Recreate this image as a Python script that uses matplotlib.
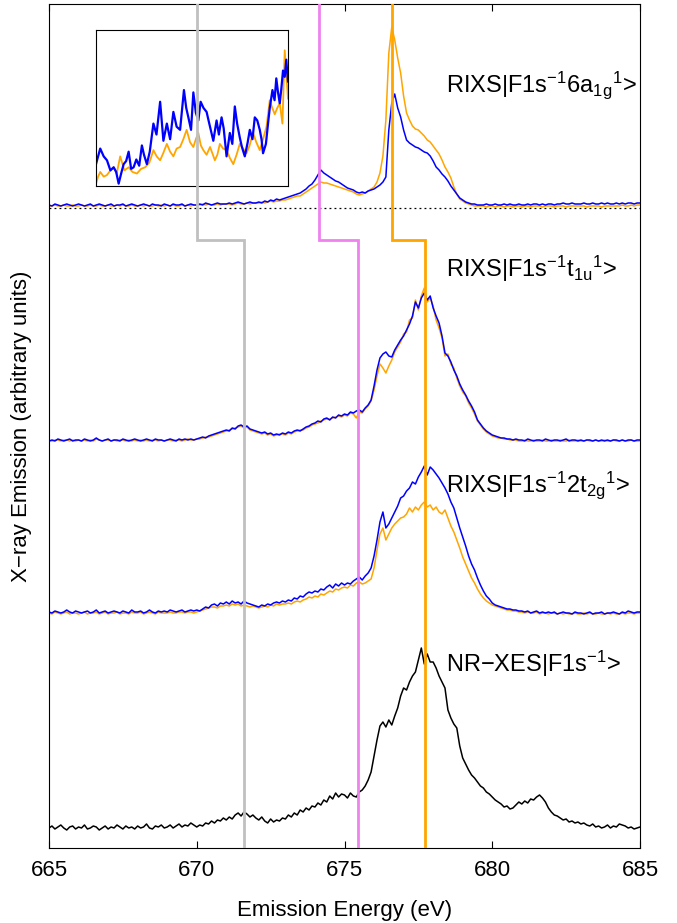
import numpy as np
import matplotlib
matplotlib.use("Agg")
import matplotlib.pyplot as plt

plt.rcParams['font.family'] = ['Liberation Sans', 'DejaVu Sans']
plt.rcParams['mathtext.fontset'] = 'custom'
plt.rcParams['mathtext.rm'] = 'Liberation Sans'
plt.rcParams['mathtext.it'] = 'Liberation Sans:italic'
plt.rcParams['mathtext.bf'] = 'Liberation Sans:bold'

# emission energy grid, 0.1 eV steps
energy = np.round(np.linspace(665.0, 685.0, 201), 1)

# NR-XES |F1s^-1>
xes = [20, 22, 19, 21, 23, 20, 18, 21, 22, 19,
       21, 20, 23, 19, 20, 22, 21, 18, 20, 22,
       19, 21, 20, 23, 21, 19, 22, 20, 21, 19,
       22, 20, 21, 24, 20, 19, 22, 21, 23, 20,
       21, 23, 20, 22, 24, 21, 23, 22, 25, 23,
       21, 23, 22, 25, 24, 27, 25, 28, 27, 30,
       28, 31, 29, 33, 35, 32, 36, 34, 31, 33,
       30, 28, 31, 27, 25, 29, 26, 28, 27, 30,
       29, 33, 31, 35, 33, 38, 36, 40, 38, 42,
       41, 45, 43, 48, 46, 52, 49, 55, 51, 54,
       53, 50, 55, 52, 51, 56, 58, 62, 68, 76,
       92, 108, 122, 126, 121, 128, 123, 132, 140, 152,
       160, 158, 166, 172, 176, 188, 200, 184, 194, 186,
       186, 180, 172, 166, 160, 138, 130, 124, 120, 102,
       90, 84, 78, 73, 70, 66, 62, 60, 56, 54,
       51, 48, 46, 44, 41, 42, 39, 40, 43, 46,
       44, 47, 45, 49, 48, 51, 53, 50, 46, 40,
       36, 33, 32, 30, 28, 29, 26, 27, 25, 26,
       24, 25, 23, 22, 24, 21, 22, 20, 21, 23,
       20, 22, 21, 24, 23, 22, 20, 21, 19, 20,
       21]

# RIXS |F1s^-1 2t2g^1>
t2g_blue = [6, 5, 7, 6, 5, 6, 8, 6, 5, 7,
            6, 5, 6, 7, 5, 6, 8, 5, 6, 7,
            5, 6, 7, 6, 5, 7, 6, 5, 8, 6,
            6, 7, 5, 6, 8, 6, 5, 7, 6, 7,
            6, 8, 7, 6, 7, 8, 6, 7, 8, 7,
            8, 7, 9, 11, 10, 13, 14, 12, 15, 14,
            16, 14, 17, 15, 16, 14, 17, 15, 14, 13,
            12, 11, 13, 12, 14, 13, 15, 16, 15, 17,
            16, 18, 17, 20, 19, 22, 21, 24, 26, 25,
            27, 26, 29, 28, 31, 33, 30, 34, 32, 35,
            33, 35, 34, 37, 39, 41, 38, 42, 45, 50,
            62, 78, 96, 106, 90, 94, 100, 106, 112, 120,
            122, 127, 130, 136, 134, 141, 146, 152, 143, 151,
            148, 144, 140, 135, 130, 124, 116, 110, 100, 90,
            81, 72, 62, 54, 48, 40, 33, 27, 22, 19,
            15, 13, 12, 11, 10, 9, 9, 8, 8, 7,
            7, 6, 7, 5, 6, 7, 5, 6, 5, 6,
            5, 6, 4, 5, 6, 5, 5, 4, 6, 5,
            5, 4, 5, 6, 4, 5, 5, 6, 4, 5,
            5, 6, 5, 4, 6, 5, 7, 6, 5, 6,
            6]
t2g_orange = [5, 4, 6, 5, 4, 5, 6, 4, 5, 5,
              4, 5, 6, 4, 5, 5, 6, 4, 5, 6,
              4, 5, 5, 6, 4, 5, 5, 4, 6, 5,
              5, 6, 4, 5, 6, 5, 4, 6, 5, 5,
              5, 6, 5, 5, 6, 6, 5, 6, 6, 5,
              6, 7, 8, 9, 10, 11, 11, 10, 12, 12,
              13, 12, 14, 13, 14, 12, 13, 12, 11, 12,
              11, 10, 11, 12, 11, 13, 12, 14, 13, 14,
              14, 15, 14, 16, 17, 16, 18, 19, 21, 20,
              22, 21, 24, 23, 25, 27, 26, 29, 28, 30,
              31, 30, 33, 32, 35, 36, 34, 35, 37, 39,
              50, 68, 84, 90, 78, 84, 90, 94, 97, 100,
              101, 104, 110, 106, 111, 108, 113, 116, 111, 113,
              108, 111, 106, 104, 108, 100, 92, 86, 78, 70,
              61, 54, 47, 40, 35, 29, 24, 20, 17, 15,
              13, 12, 11, 10, 9, 8, 8, 7, 7, 6,
              6, 5, 6, 5, 5, 6, 4, 5, 5, 4,
              5, 5, 4, 5, 4, 5, 4, 4, 5, 4,
              4, 5, 4, 5, 4, 4, 5, 4, 4, 5,
              4, 5, 4, 4, 5, 4, 5, 5, 4, 5,
              5]

# RIXS |F1s^-1 t1u^1>
t1u_blue = [7, 8, 7, 9, 8, 7, 8, 9, 7, 8,
            8, 7, 9, 8, 7, 8, 10, 8, 7, 8,
            9, 7, 8, 8, 7, 9, 8, 7, 8, 9,
            8, 7, 8, 9, 8, 7, 9, 8, 8, 7,
            8, 9, 8, 7, 9, 8, 9, 8, 9, 8,
            9, 10, 11, 10, 12, 13, 14, 15, 16, 17,
            18, 17, 20, 19, 22, 23, 21, 22, 19, 18,
            17, 16, 15, 16, 14, 15, 13, 14, 13, 15,
            14, 16, 15, 17, 18, 17, 19, 21, 22, 24,
            25, 27, 26, 29, 30, 28, 31, 30, 33, 32,
            34, 33, 36, 35, 37, 38, 36, 40, 43, 48,
            62, 78, 90, 94, 96, 92, 91, 98, 103, 108,
            112, 118, 124, 132, 146, 140, 150, 155, 148, 152,
            140, 132, 125, 112, 95, 92, 86, 78, 72, 64,
            58, 53, 47, 42, 36, 28, 24, 20, 17, 15,
            13, 12, 11, 10, 10, 9, 9, 8, 9, 8,
            8, 7, 9, 8, 7, 8, 8, 7, 9, 8,
            7, 8, 8, 7, 8, 9, 7, 8, 8, 7,
            8, 7, 8, 8, 7, 8, 7, 8, 7, 8,
            7, 8, 8, 7, 8, 7, 8, 8, 7, 8,
            8]
t1u_orange = [7, 7, 8, 8, 7, 8, 8, 7, 8, 7,
              8, 7, 8, 7, 8, 7, 9, 8, 7, 8,
              8, 7, 8, 7, 8, 8, 7, 8, 7, 8,
              7, 8, 7, 8, 7, 8, 8, 7, 8, 7,
              8, 8, 7, 8, 8, 7, 8, 9, 8, 8,
              9, 9, 10, 11, 11, 12, 13, 14, 15, 16,
              17, 18, 19, 20, 21, 22, 20, 21, 18, 17,
              16, 15, 14, 15, 13, 14, 12, 13, 14, 14,
              13, 15, 14, 16, 17, 18, 18, 20, 21, 23,
              24, 25, 27, 28, 29, 29, 30, 31, 32, 31,
              33, 32, 35, 34, 30, 36, 35, 39, 42, 47,
              58, 72, 84, 80, 75, 82, 88, 96, 101, 106,
              114, 116, 128, 130, 148, 138, 152, 160, 146, 150,
              142, 128, 120, 110, 92, 94, 84, 80, 70, 62,
              56, 52, 45, 40, 34, 27, 23, 19, 16, 14,
              12, 11, 10, 10, 9, 9, 8, 8, 8, 7,
              7, 8, 7, 7, 8, 7, 7, 8, 7, 7,
              8, 7, 7, 8, 7, 7, 8, 7, 7, 8,
              7, 7, 8, 7, 7, 8, 7, 7, 8, 7,
              7, 8, 7, 7, 8, 7, 7, 8, 7, 7,
              7]

# RIXS |F1s^-1 6a1g^1>
a1g_blue = [3, 2, 4, 3, 2, 3, 4, 3, 2, 3,
            4, 3, 2, 3, 4, 2, 3, 4, 3, 2,
            3, 4, 2, 3, 3, 4, 2, 3, 4, 3,
            2, 3, 4, 3, 2, 4, 3, 3, 2, 4,
            3, 2, 4, 3, 3, 4, 2, 3, 4, 3,
            3, 4, 3, 5, 4, 3, 4, 5, 4, 4,
            4, 5, 4, 5, 6, 5, 4, 5, 6, 5,
            5, 6, 5, 7, 6, 8, 7, 9, 8, 9,
            10, 11, 12, 13, 14, 15, 17, 19, 22, 24,
            28, 33, 38, 35, 33, 31, 29, 27, 26, 24,
            22, 20, 19, 18, 16, 15, 16, 15, 17, 18,
            19, 21, 23, 26, 31, 78, 105, 114, 100, 91,
            78, 68, 65, 63, 61, 60, 58, 56, 55, 52,
            47, 41, 38, 34, 31, 27, 22, 18, 14, 10,
            8, 6, 5, 4, 4, 3, 3, 3, 4, 3,
            3, 4, 3, 3, 4, 3, 4, 3, 3, 4,
            3, 3, 4, 3, 4, 4, 3, 4, 3, 4,
            4, 3, 4, 4, 5, 4, 4, 5, 4, 4,
            4, 5, 4, 4, 5, 4, 4, 5, 4, 5,
            4, 4, 5, 4, 5, 4, 5, 5, 4, 5,
            5]
a1g_orange = [2, 2, 3, 2, 2, 3, 2, 2, 3, 2,
              2, 3, 2, 2, 3, 2, 2, 3, 2, 2,
              3, 2, 2, 3, 2, 3, 2, 2, 3, 2,
              2, 3, 2, 3, 2, 2, 3, 2, 3, 2,
              3, 2, 3, 2, 2, 3, 2, 3, 2, 3,
              3, 3, 4, 3, 4, 3, 3, 4, 3, 4,
              4, 4, 3, 4, 5, 4, 4, 5, 4, 5,
              5, 5, 6, 5, 6, 7, 6, 7, 7, 8,
              8, 9, 10, 11, 12, 12, 14, 16, 18, 20,
              22, 24, 26, 25, 25, 24, 23, 22, 21, 20,
              19, 18, 17, 16, 14, 13, 14, 15, 17, 19,
              21, 26, 35, 52, 88, 155, 181, 168, 150, 135,
              112, 95, 88, 82, 79, 78, 75, 72, 68, 66,
              62, 58, 54, 48, 41, 36, 30, 21, 14, 9,
              7, 5, 4, 3, 2, 2, 2, 2, 1, 2,
              2, 1, 2, 2, 1, 2, 2, 1, 2, 2,
              1, 2, 2, 1, 2, 2, 2, 1, 2, 2,
              2, 1, 2, 2, 2, 1, 2, 2, 2, 2,
              2, 2, 1, 2, 2, 2, 2, 1, 2, 2,
              2, 2, 2, 2, 3, 2, 2, 3, 2, 3,
              3]

# vertical offsets of the stacked spectra
offset_xes, offset_t2g, offset_t1u, offset_a1g = 0, 230, 400, 640

# zoomed pre-edge region (inset, normalised units)
inset_blue_x = [0.000, 0.022, 0.040, 0.057, 0.075, 0.092, 0.105, 0.118, 0.131, 0.144,
                0.157, 0.170, 0.183, 0.196, 0.210, 0.225, 0.239, 0.250, 0.265, 0.280,
                0.299, 0.315, 0.334, 0.351, 0.369, 0.386, 0.403, 0.420, 0.438, 0.458,
                0.470, 0.481, 0.495, 0.507, 0.520, 0.533, 0.545, 0.560, 0.576, 0.590,
                0.611, 0.628, 0.640, 0.654, 0.665, 0.680, 0.697, 0.710, 0.723, 0.735,
                0.749, 0.760, 0.775, 0.790, 0.801, 0.815, 0.827, 0.840, 0.853, 0.862,
                0.870, 0.885, 0.896, 0.905, 0.919, 0.930, 0.939, 0.948, 0.957, 0.965,
                0.974, 0.983, 0.991, 1.000]
inset_blue_y = [0.14, 0.24, 0.19, 0.165, 0.10, 0.12, 0.09, 0.015, 0.08, 0.14,
                0.16, 0.22, 0.11, 0.12, 0.17, 0.13, 0.26, 0.20, 0.14, 0.22,
                0.40, 0.33, 0.54, 0.29, 0.40, 0.30, 0.475, 0.38, 0.36, 0.615,
                0.50, 0.44, 0.36, 0.60, 0.47, 0.42, 0.54, 0.50, 0.475, 0.40,
                0.29, 0.42, 0.33, 0.44, 0.37, 0.19, 0.34, 0.27, 0.51, 0.40,
                0.31, 0.25, 0.19, 0.28, 0.36, 0.30, 0.44, 0.42, 0.36, 0.30,
                0.21, 0.27, 0.40, 0.50, 0.615, 0.55, 0.69, 0.60, 0.53, 0.62,
                0.74, 0.70, 0.81, 0.67]
inset_orange_x = [0.000, 0.011, 0.022, 0.040, 0.057, 0.075, 0.092, 0.108, 0.126, 0.148,
                  0.170, 0.190, 0.213, 0.235, 0.256, 0.278, 0.299, 0.316, 0.334, 0.350,
                  0.369, 0.386, 0.403, 0.420, 0.438, 0.455, 0.472, 0.490, 0.507, 0.520,
                  0.533, 0.546, 0.559, 0.576, 0.594, 0.606, 0.619, 0.632, 0.645, 0.662,
                  0.680, 0.697, 0.715, 0.732, 0.749, 0.766, 0.784, 0.800, 0.818, 0.835,
                  0.853, 0.870, 0.888, 0.905, 0.918, 0.931, 0.944, 0.957, 0.971, 0.983,
                  0.992, 1.000]
inset_orange_y = [0.015, 0.06, 0.09, 0.06, 0.07, 0.10, 0.12, 0.08, 0.19, 0.10,
                  0.12, 0.09, 0.08, 0.11, 0.12, 0.15, 0.23, 0.19, 0.165, 0.21,
                  0.27, 0.22, 0.19, 0.24, 0.25, 0.30, 0.36, 0.28, 0.25, 0.30,
                  0.34, 0.26, 0.23, 0.20, 0.25, 0.21, 0.165, 0.20, 0.27, 0.24,
                  0.23, 0.18, 0.14, 0.20, 0.27, 0.24, 0.21, 0.26, 0.34, 0.28,
                  0.23, 0.30, 0.38, 0.55, 0.50, 0.46, 0.50, 0.53, 0.40, 0.87,
                  0.70, 0.56]

# marker energies: (upper panel, lower panels) and the y where they step
gray_e = (670.0, 671.6)
violet_e = (674.15, 675.45)
orange_e = (676.6, 677.72)
step_y = 608

labels = [
    (r"RIXS|F1s$^{\mathrm{-1}}$6a$_{\mathrm{1g}}$$^{\mathrm{1}}$>", 756),
    (r"RIXS|F1s$^{\mathrm{-1}}$t$_{\mathrm{1u}}$$^{\mathrm{1}}$>", 571),
    (r"RIXS|F1s$^{\mathrm{-1}}$2t$_{\mathrm{2g}}$$^{\mathrm{1}}$>", 356),
    ("NR\u2212XES|F1s$^{\\mathrm{-1}}$>", 176),
]
label_x = 678.45

blue = '#0000ff'
orange = '#ffa500'

fig = plt.figure(figsize=(6.77, 9.23), dpi=100)
ax = fig.add_axes([49 / 677, 75 / 923, 591 / 677, 844 / 923])
ax.set_zorder(1)
ax.patch.set_visible(False)

for base, ora, blu in [(offset_t2g, t2g_orange, t2g_blue),
                       (offset_t1u, t1u_orange, t1u_blue),
                       (offset_a1g, a1g_orange, a1g_blue)]:
    ax.plot(energy, base + np.array(ora), color=orange, lw=1.1)
    ax.plot(energy, base + np.array(blu), color=blue, lw=1.1)
ax.plot(energy, offset_xes + np.array(xes), color='k', lw=1.1)

ax.plot([665, 685], [offset_a1g, offset_a1g], color='k', lw=0.9,
        linestyle=(0, (1.5, 2.5)))

ytop = 844
for (e_hi, e_lo), col in [(gray_e, '#c0c0c0'), (violet_e, '#ee82ee'), (orange_e, orange)]:
    ax.plot([e_hi, e_hi, e_lo, e_lo], [ytop, step_y, step_y, 0], color=col, lw=2.0,
            solid_joinstyle='miter', zorder=3)

for txt, y in labels:
    ax.text(label_x, y, txt, fontsize=17, va='baseline', ha='left')

ax.set_xlim(665, 685)
ax.set_ylim(0, ytop)
ax.set_xticks([665, 670, 675, 680, 685])
ax.set_yticks([])
ax.tick_params(axis='x', direction='in', length=5, top=True, labelsize=16, pad=9)
ax.set_xlabel('Emission Energy (eV)', fontsize=16, labelpad=13)
ax.set_ylabel('X\u2212ray Emission (arbitrary units)', fontsize=16, labelpad=12)

ins = fig.add_axes([96 / 677, (923 - 186) / 923, 192 / 677, 156 / 923])
ins.set_zorder(0)
ins.plot(inset_orange_x, inset_orange_y, color=orange, lw=1.3)
ins.plot(inset_blue_x, inset_blue_y, color=blue, lw=1.6)
ins.set_xlim(0, 1)
ins.set_ylim(0, 1)
ins.set_xticks([])
ins.set_yticks([])

fig.savefig('out.png', dpi=100)
